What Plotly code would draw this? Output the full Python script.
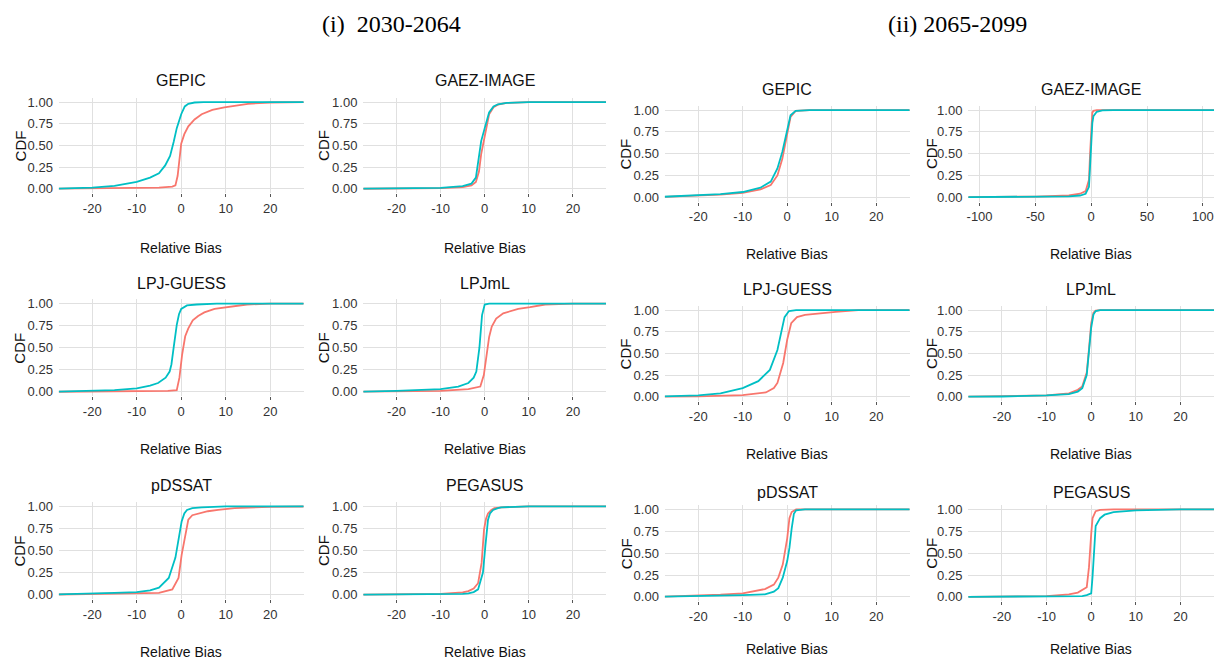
import plotly.graph_objects as go

# ---------------- data ----------------
PERIOD_TITLES = ["(i)  2030-2064", "(ii) 2065-2099"]
MODELS = ["GEPIC", "GAEZ-IMAGE", "LPJ-GUESS", "LPJmL", "pDSSAT", "PEGASUS"]

X_TICKVALS = [-20, -10, 0, 10, 20]
X_TICKTEXT = ["-20", "-10", "0", "10", "20"]
X_TICKVALS_WIDE = [-100, -50, 0, 50, 100]
X_TICKTEXT_WIDE = ["-100", "-50", "0", "50", "100"]
Y_TICKVALS = [0, 0.25, 0.5, 0.75, 1.0]
Y_TICKTEXT = ["0.00", "0.25", "0.50", "0.75", "1.00"]

# (i) 2030-2064  : (relative bias, CDF)
I_GEPIC_RED = [(-30, 0), (-20, 0.003), (-10, 0.01), (-5, 0.015), (-2, 0.025), (-1.3, 0.04), (-0.8, 0.15),
               (-0.5, 0.3), (0, 0.52), (0.7, 0.63), (1.6, 0.72), (3, 0.8), (4.6, 0.86), (7, 0.91),
               (9.7, 0.94), (15, 0.98), (20, 0.995), (30, 1)]
I_GEPIC_CYAN = [(-30, 0), (-25, 0.005), (-20, 0.015), (-15, 0.035), (-10, 0.08), (-7, 0.13), (-5, 0.18),
                (-3.6, 0.27), (-2.5, 0.38), (-1.7, 0.54), (-1, 0.7), (0, 0.86), (0.8, 0.95), (1.6, 0.98),
                (3, 0.995), (5, 1), (30, 1)]
I_GAEZ_RED = [(-30, 0), (-20, 0.002), (-10, 0.008), (-5, 0.02), (-3, 0.04), (-2, 0.08), (-1.3, 0.2),
              (-0.8, 0.4), (0, 0.6), (0.6, 0.75), (1, 0.86), (2, 0.94), (3, 0.97), (5, 0.99), (10, 1), (30, 1)]
I_GAEZ_CYAN = [(-30, 0), (-20, 0.003), (-10, 0.012), (-5, 0.03), (-3, 0.06), (-2, 0.13), (-1.3, 0.35),
               (-0.8, 0.55), (0, 0.7), (0.6, 0.8), (1, 0.88), (2, 0.95), (3, 0.975), (5, 0.99), (10, 1), (30, 1)]
I_LPJG_RED = [(-30, 0), (-20, 0.002), (-10, 0.005), (-3, 0.01), (-1, 0.02), (-0.4, 0.16), (0.2, 0.42),
              (0.9, 0.63), (1.6, 0.72), (2.6, 0.81), (3.8, 0.86), (5.2, 0.9), (7.5, 0.94), (10, 0.96),
              (14.8, 0.99), (20, 1), (30, 1)]
I_LPJG_CYAN = [(-30, 0), (-20, 0.01), (-15, 0.02), (-10, 0.04), (-7, 0.07), (-5.2, 0.1), (-3.5, 0.16),
               (-2.6, 0.23), (-2.2, 0.31), (-1.7, 0.5), (-1, 0.76), (-0.5, 0.88), (0, 0.94), (1.3, 0.98),
               (3.5, 0.99), (8, 1), (30, 1)]
I_LPJML_RED = [(-30, 0), (-20, 0.003), (-10, 0.01), (-3.7, 0.03), (-1, 0.06), (-0.2, 0.19), (0.5, 0.46),
               (1, 0.62), (1.6, 0.74), (2.6, 0.83), (4.2, 0.89), (7.6, 0.94), (10.3, 0.96), (13.7, 0.99),
               (20, 1), (30, 1)]
I_LPJML_CYAN = [(-30, 0), (-20, 0.01), (-10, 0.03), (-6, 0.06), (-3.7, 0.1), (-2.5, 0.16), (-1.9, 0.23),
                (-1.2, 0.5), (-0.6, 0.87), (0, 0.99), (1, 1), (30, 1)]
I_PDSSAT_RED = [(-30, 0), (-20, 0.005), (-10, 0.012), (-5, 0.02), (-2, 0.06), (-0.6, 0.19), (0.1, 0.45),
                (0.9, 0.68), (1.6, 0.85), (2.5, 0.9), (3.9, 0.92), (6, 0.945), (8.3, 0.96), (12, 0.98),
                (20, 0.995), (30, 1)]
I_PDSSAT_CYAN = [(-30, 0), (-20, 0.01), (-15, 0.02), (-10, 0.03), (-7, 0.05), (-5, 0.08), (-2.8, 0.19),
                 (-1.3, 0.42), (-0.6, 0.64), (0.1, 0.83), (0.7, 0.92), (1.3, 0.96), (2.5, 0.98), (4.6, 0.99),
                 (10, 1), (30, 1)]
I_PEGASUS_RED = [(-30, 0), (-20, 0.003), (-10, 0.01), (-5, 0.025), (-3.7, 0.04), (-2.5, 0.07), (-1.5, 0.13),
                 (-0.7, 0.36), (-0.15, 0.74), (0.3, 0.86), (0.75, 0.92), (1.5, 0.96), (2.2, 0.98), (4, 0.99),
                 (10, 1), (30, 1)]
I_PEGASUS_CYAN = [(-30, 0), (-20, 0.002), (-10, 0.005), (-5, 0.01), (-3.7, 0.015), (-2.5, 0.03), (-1.5, 0.06),
                  (-0.4, 0.25), (0.15, 0.55), (0.75, 0.85), (1.2, 0.92), (1.9, 0.96), (3, 0.98), (3.7, 0.99),
                  (10, 1), (30, 1)]

# (ii) 2065-2099
II_GEPIC_RED = [(-30, 0), (-20, 0.015), (-15, 0.03), (-10, 0.05), (-6, 0.09), (-3.7, 0.14), (-2.2, 0.25),
                (-1.1, 0.44), (0, 0.74), (0.75, 0.92), (1.9, 0.99), (5, 1), (30, 1)]
II_GEPIC_CYAN = [(-30, 0), (-20, 0.02), (-15, 0.035), (-10, 0.06), (-6, 0.11), (-3.7, 0.18), (-2.2, 0.33),
                 (-1.1, 0.52), (0, 0.79), (0.75, 0.94), (1.9, 0.99), (5, 1), (30, 1)]
II_GAEZ_RED = [(-120, 0), (-100, 0.002), (-50, 0.008), (-20, 0.02), (-10, 0.04), (-5, 0.07), (-2, 0.2),
               (-1, 0.5), (0, 0.85), (1, 0.97), (2, 0.99), (5, 1), (120, 1)]
II_GAEZ_CYAN = [(-120, 0), (-100, 0.002), (-50, 0.005), (-20, 0.01), (-10, 0.02), (-5, 0.04), (-2, 0.12),
                (-1, 0.3), (0, 0.6), (1, 0.85), (2, 0.93), (5, 0.98), (10, 0.995), (20, 1), (120, 1)]
II_LPJG_RED = [(-30, 0), (-20, 0.005), (-10, 0.02), (-4.8, 0.05), (-3, 0.1), (-2.2, 0.16), (-0.9, 0.39),
               (0, 0.66), (0.9, 0.85), (2.2, 0.92), (4, 0.945), (6.5, 0.96), (10.9, 0.98), (16, 1), (30, 1)]
II_LPJG_CYAN = [(-30, 0), (-25, 0.005), (-20, 0.015), (-15, 0.04), (-10, 0.1), (-6.5, 0.18), (-3.9, 0.31),
                (-2.2, 0.54), (-1.3, 0.77), (-0.6, 0.92), (0.4, 0.99), (2, 1), (30, 1)]
II_LPJML_RED = [(-30, 0), (-20, 0.004), (-10, 0.015), (-5, 0.04), (-3, 0.08), (-2, 0.12), (-1, 0.28),
                (-0.5, 0.55), (0, 0.85), (0.5, 0.97), (1, 0.995), (2, 1), (30, 1)]
II_LPJML_CYAN = [(-30, 0), (-20, 0.003), (-10, 0.015), (-5, 0.03), (-3, 0.06), (-2, 0.1), (-1, 0.25),
                 (-0.5, 0.5), (0, 0.8), (0.5, 0.95), (1, 0.99), (2, 1), (30, 1)]
II_PDSSAT_RED = [(-30, 0), (-20, 0.015), (-15, 0.025), (-10, 0.04), (-5, 0.09), (-3, 0.14), (-2, 0.22),
                 (-1, 0.37), (0, 0.67), (0.5, 0.9), (1, 0.97), (2, 1), (30, 1)]
II_PDSSAT_CYAN = [(-30, 0), (-20, 0.008), (-10, 0.02), (-5, 0.03), (-3, 0.06), (-2, 0.1), (-1, 0.22),
                  (0, 0.41), (0.5, 0.56), (1, 0.78), (1.5, 0.95), (2, 0.99), (4, 1), (30, 1)]
II_PEGASUS_RED = [(-30, 0), (-20, 0.004), (-10, 0.01), (-5, 0.03), (-3, 0.05), (-1, 0.11), (-0.5, 0.34),
                  (0, 0.72), (0.3, 0.9), (1, 0.98), (2, 0.995), (5, 1), (30, 1)]
II_PEGASUS_CYAN = [(-30, 0), (-20, 0.002), (-5, 0.005), (-2, 0.01), (-1, 0.02), (0, 0.04), (0.3, 0.23),
                   (0.7, 0.64), (1, 0.81), (2, 0.9), (3, 0.94), (5, 0.97), (10, 0.99), (20, 1), (30, 1)]

SERIES_I = [(I_GEPIC_RED, I_GEPIC_CYAN), (I_GAEZ_RED, I_GAEZ_CYAN), (I_LPJG_RED, I_LPJG_CYAN),
            (I_LPJML_RED, I_LPJML_CYAN), (I_PDSSAT_RED, I_PDSSAT_CYAN), (I_PEGASUS_RED, I_PEGASUS_CYAN)]
SERIES_II = [(II_GEPIC_RED, II_GEPIC_CYAN), (II_GAEZ_RED, II_GAEZ_CYAN), (II_LPJG_RED, II_LPJG_CYAN),
             (II_LPJML_RED, II_LPJML_CYAN), (II_PDSSAT_RED, II_PDSSAT_CYAN), (II_PEGASUS_RED, II_PEGASUS_CYAN)]

# ---------------- layout / style ----------------
W, H = 1217, 668
RED, CYAN = "#F8766D", "#00BFC4"
GRID = "#E0E0E0"
SANS = "Liberation Sans, Arial, sans-serif"
SERIF = "Liberation Serif, Times New Roman, serif"

# pixel geometry per period: column x-extents, row y-extents, title/label positions
GEOM = [
    dict(cols=[(57, 302), (362, 605)], rows=[(95.6, 191.9), (298.9, 396.8), (503.5, 601.5)],
         title_y=[78, 283, 487], xlab_y=[247, 450, 655], cdf_x=[18, 322], head=(390, 21)),
    dict(cols=[(664, 909), (968, 1214)], rows=[(103.6, 200.4), (305.6, 401.7), (506.6, 603.7)],
         title_y=[87, 289, 494], xlab_y=[253, 455, 652], cdf_x=[625, 931], head=(957, 21)),
]


def fx(px):
    return px / W


def fy(py):
    return 1 - py / H


fig = go.Figure()
annotations = []
layout_axes = {}
k = 0
for p, series in enumerate([SERIES_I, SERIES_II]):
    g = GEOM[p]
    annotations.append(dict(x=fx(g["head"][0]), y=fy(g["head"][1]), xref="paper", yref="paper",
                            text=PERIOD_TITLES[p], showarrow=False, xanchor="center", yanchor="middle",
                            font=dict(family=SERIF, size=24, color="#000000")))
    for m, model in enumerate(MODELS):
        k += 1
        r, c = divmod(m, 2)
        x0, x1 = g["cols"][c]
        y0, y1 = g["rows"][r]
        wide = (p == 1 and model == "GAEZ-IMAGE")
        xs = "" if k == 1 else str(k)
        layout_axes["xaxis" + xs] = dict(
            domain=[fx(x0), fx(x1)], anchor="y" + xs,
            range=[-110, 110] if wide else [-27.5, 27.5],
            tickvals=X_TICKVALS_WIDE if wide else X_TICKVALS,
            ticktext=X_TICKTEXT_WIDE if wide else X_TICKTEXT,
            showgrid=True, gridcolor=GRID, gridwidth=1, zeroline=False, showline=False,
            ticks="outside", ticklen=3, tickwidth=1, tickcolor="#555555",
            ticklabelstandoff=0,
            tickfont=dict(family=SANS, size=13, color="#333333"),
        )
        layout_axes["yaxis" + xs] = dict(
            domain=[fy(y1), fy(y0)], anchor="x" + xs,
            range=[-0.05, 1.05], tickvals=Y_TICKVALS, ticktext=Y_TICKTEXT,
            showgrid=True, gridcolor=GRID, gridwidth=1, zeroline=False, showline=False,
            ticks="", ticklabelstandoff=5,
            tickfont=dict(family=SANS, size=13, color="#333333"),
        )
        red, cyan = series[m]
        for pts, col, name in [(red, RED, "red group"), (cyan, CYAN, "cyan group")]:
            fig.add_trace(go.Scatter(
                x=[a for a, _ in pts], y=[b for _, b in pts], mode="lines",
                line=dict(color=col, width=1.8), name=name, showlegend=False,
                xaxis="x" + xs, yaxis="y" + xs, hoverinfo="x+y",
            ))
        cx = (x0 + x1) / 2
        annotations.append(dict(x=fx(cx), y=fy(g["title_y"][r]), xref="paper", yref="paper", text=model,
                                showarrow=False, xanchor="center", yanchor="middle",
                                font=dict(family=SANS, size=16, color="#111111")))
        annotations.append(dict(x=fx(cx), y=fy(g["xlab_y"][r]), xref="paper", yref="paper",
                                text="Relative Bias", showarrow=False, xanchor="center", yanchor="middle",
                                font=dict(family=SANS, size=14, color="#111111")))
        annotations.append(dict(x=fx(g["cdf_x"][c]), y=fy((y0 + y1) / 2), xref="paper", yref="paper",
                                text="CDF", textangle=-90, showarrow=False, xanchor="center",
                                yanchor="middle", font=dict(family=SANS, size=15, color="#111111")))

fig.update_layout(
    width=W, height=H, margin=dict(l=0, r=0, t=0, b=0),
    paper_bgcolor="white", plot_bgcolor="white", showlegend=False,
    annotations=annotations, **layout_axes,
)

fig.write_html("out.html")
